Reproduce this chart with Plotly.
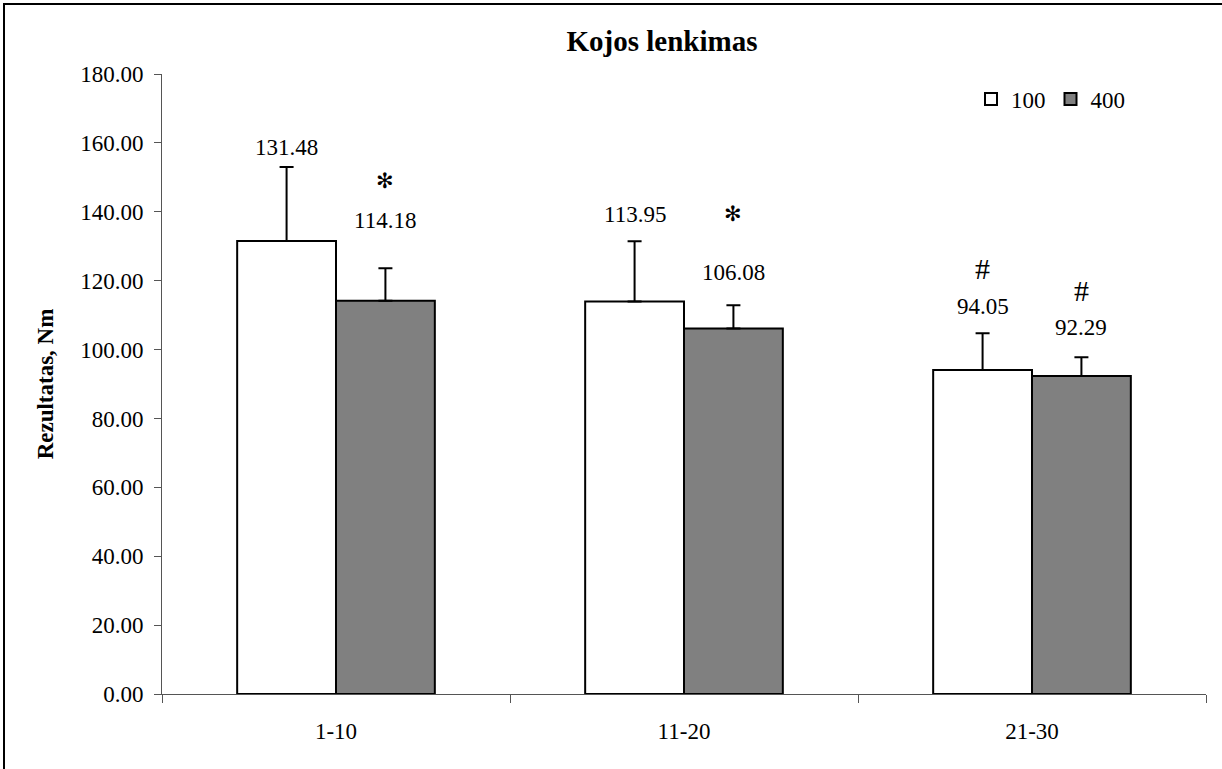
import plotly.graph_objects as go

categories = ["1-10", "11-20", "21-30"]
series_names = ["100", "400"]
values_100 = [131.48, 113.95, 94.05]
values_400 = [114.18, 106.08, 92.29]
err_100 = [21.5, 17.5, 10.7]
err_400 = [9.4, 6.8, 5.5]
# significance marks above the bars
marks_100 = ["", "", "#"]
marks_400 = ["✻", "✻", "#"]

# label placement (styling: heights in axis units for each text)
label_y_100 = [158.7, 139.3, 112.6]
label_y_400 = [137.5, 122.5, 106.5]
mark_y_100 = [None, None, 123.6]
mark_y_400 = [148.9, 139.3, 117.2]

W, H = 1222, 769
L, R, T, B = 162, 16, 74, 75
BARGAP = 0.432
FONT = "Liberation Serif, Times New Roman, serif"

fig = go.Figure()
fig.add_trace(go.Bar(
    name=series_names[0], x=categories, y=values_100,
    marker=dict(color="white", line=dict(color="black", width=2)),
    error_y=dict(type="data", array=err_100, arrayminus=[0] * 3, symmetric=False,
                 color="black", thickness=2, width=7),
))
fig.add_trace(go.Bar(
    name=series_names[1], x=categories, y=values_400,
    marker=dict(color="#808080", line=dict(color="black", width=2)),
    error_y=dict(type="data", array=err_400, arrayminus=[0] * 3, symmetric=False,
                 color="black", thickness=2, width=7),
))

half = (1 - BARGAP) / 4
ann = []
for i in range(len(categories)):
    ann.append(dict(x=i - half, y=label_y_100[i], xref="x", yref="y",
                    text=f"{values_100[i]:.2f}", showarrow=False,
                    font=dict(family=FONT, size=23, color="black")))
    ann.append(dict(x=i + half, y=label_y_400[i], xref="x", yref="y",
                    text=f"{values_400[i]:.2f}", showarrow=False,
                    font=dict(family=FONT, size=23, color="black")))
    for m, my, dx in ((marks_100[i], mark_y_100[i], -half), (marks_400[i], mark_y_400[i], half)):
        if not m:
            continue
        if m == "✻":
            ann.append(dict(x=i + dx, y=my, xref="x", yref="y", text=m,
                            showarrow=False,
                            font=dict(family="DejaVu Sans", size=21, color="black")))
        else:
            ann.append(dict(x=i + dx, y=my, xref="x", yref="y", text=m,
                            showarrow=False,
                            font=dict(family=FONT, size=30, color="black")))

pw = W - L - R
ph = H - T - B
fig.update_layout(
    width=W, height=H,
    margin=dict(l=L, r=R, t=T, b=B),
    paper_bgcolor="white", plot_bgcolor="white",
    font=dict(family=FONT, size=23, color="black"),
    barmode="group", bargap=BARGAP, bargroupgap=0,
    title=dict(text="<b>Kojos lenkimas</b>", x=662 / W, xref="container", xanchor="center",
               y=1 - 41 / H, yref="container", yanchor="middle",
               font=dict(family=FONT, size=29, color="black")),
    legend=dict(orientation="h", x=(1130 - L) / pw, xanchor="right",
                y=(H - B - 99) / ph, yanchor="middle",
                font=dict(family=FONT, size=23, color="black"),
                bgcolor="rgba(0,0,0,0)", itemwidth=30, tracegroupgap=0),
    annotations=ann,
    shapes=[dict(type="rect", xref="paper", yref="paper",
                 x0=(4 - L) / pw, x1=(W + 20 - L) / pw,
                 y0=(H - B - (H + 20)) / ph, y1=(H - B - 4) / ph,
                 line=dict(color="black", width=2), fillcolor="rgba(0,0,0,0)")],
)
fig.update_xaxes(
    type="category", showline=True, linecolor="#555", linewidth=1,
    ticks="outside", tickson="boundaries", ticklen=8, tickcolor="#555",
    showgrid=False, ticklabelstandoff=16,
    tickfont=dict(family=FONT, size=23, color="black"),
)
fig.update_yaxes(
    range=[0, 180], dtick=20, tick0=0, tickformat=".2f",
    showline=True, linecolor="#555", linewidth=1,
    ticks="outside", ticklen=7, tickcolor="#555", showgrid=False, zeroline=False,
    ticklabelstandoff=6,
    tickfont=dict(family=FONT, size=23, color="black"),
    title=dict(text="<b>Rezultatas, Nm</b>", standoff=20,
               font=dict(family=FONT, size=23, color="black")),
)

fig.write_html("out.html", config={"displayModeBar": False},
               post_script="document.body.style.margin='0';document.body.style.overflow='hidden';")
